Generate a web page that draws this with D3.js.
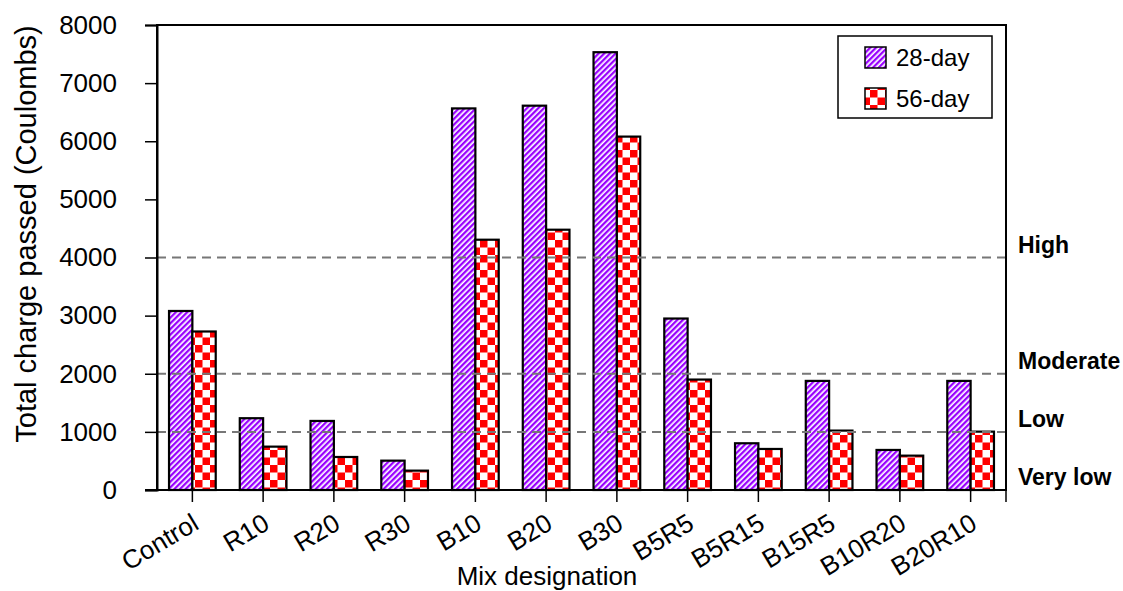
<!DOCTYPE html>
<html>
<head>
<meta charset="utf-8">
<script src="https://cdn.jsdelivr.net/npm/d3@7"></script>
<style>
  body { margin: 0; background: #fff; }
  text { font-family: "Liberation Sans", Arial, sans-serif; fill: #000; }
</style>
</head>
<body>
<svg id="chart" width="1123" height="591"></svg>
<script>
// data
var mixes = ["Control", "R10", "R20", "R30", "B10", "B20", "B30", "B5R5", "B5R15", "B15R5", "B10R20", "B20R10"];
var day28 = [3080, 1235, 1188, 505, 6565, 6612, 7532, 2950, 804, 1877, 689, 1877];
var day56 = [2727, 746, 568, 333, 4306, 4478, 6080, 1900, 706, 1022, 591, 1004];
var seriesNames = ["28-day", "56-day"];
var yTicks = [0, 1000, 2000, 3000, 4000, 5000, 6000, 7000, 8000];
var limitLines = [1000, 2000, 4000];
var rateNames = ["High", "Moderate", "Low", "Very low"];
var rateFrom = [4000, 2000, 1000, 0];

var svg = d3.select("#chart");
var plotL = 157, plotR = 1006, plotT = 25, plotB = 490;

var x = d3.scaleBand().domain(mixes).range([plotL, plotR]);
var y = d3.scaleLinear().domain([0, 8000]).range([plotB, plotT]);
var barW = x.bandwidth() * 0.33;

// patterns
var defs = svg.append("defs");
var stripes = defs.append("pattern")
    .attr("id", "stripes")
    .attr("patternUnits", "userSpaceOnUse")
    .attr("width", 4).attr("height", 4)
    .attr("patternTransform", "rotate(45)");
stripes.append("rect").attr("width", 4).attr("height", 4).attr("fill", "#fff");
stripes.append("rect").attr("width", 2.3).attr("height", 4).attr("fill", "#9900ff");

var checks = defs.append("pattern")
    .attr("id", "checks")
    .attr("patternUnits", "userSpaceOnUse")
    .attr("width", 15).attr("height", 15);
checks.append("rect").attr("width", 15).attr("height", 15).attr("fill", "#fff");
checks.append("rect").attr("width", 7.5).attr("height", 7.5).attr("fill", "#ff0000");
checks.append("rect").attr("x", 7.5).attr("y", 7.5).attr("width", 7.5).attr("height", 7.5).attr("fill", "#ff0000");

var fills = ["url(#stripes)", "url(#checks)"];

// bars
var series = [day28, day56];
series.forEach(function(vals, s) {
    svg.append("g").selectAll("rect")
        .data(vals)
        .enter()
        .append("rect")
        .attr("x", function(d, i) { return x(mixes[i]) + x.bandwidth() / 2 + (s - 1) * barW; })
        .attr("y", function(d) { return y(d); })
        .attr("width", barW)
        .attr("height", function(d) { return plotB - y(d); })
        .attr("fill", fills[s])
        .attr("stroke", "#000")
        .attr("stroke-width", 2.2);
});

// dashed limit lines
svg.append("g").selectAll("line")
    .data(limitLines)
    .enter()
    .append("line")
    .attr("x1", plotL).attr("x2", plotR)
    .attr("y1", function(d) { return y(d); })
    .attr("y2", function(d) { return y(d); })
    .attr("stroke", "#777")
    .attr("stroke-width", 2)
    .attr("stroke-dasharray", "9,6");

// frame
svg.append("rect")
    .attr("x", plotL).attr("y", plotT)
    .attr("width", plotR - plotL).attr("height", plotB - plotT)
    .attr("fill", "none").attr("stroke", "#000").attr("stroke-width", 2);

// y axis
var yAxis = d3.axisLeft(y).tickValues(yTicks).tickSize(12).tickPadding(28).tickFormat(d3.format("d"));
var gy = svg.append("g").attr("transform", "translate(" + plotL + ",0)").call(yAxis);
gy.select(".domain").attr("stroke-width", 2);
gy.selectAll(".tick line").attr("stroke-width", 1.5);
gy.selectAll("text").attr("font-size", 26).attr("font-family", "Liberation Sans, Arial, sans-serif");

// x axis: ticks at band centres plus one at the right edge
var gx = svg.append("g").attr("transform", "translate(0," + plotB + ")");
gx.append("line").attr("x1", plotL - 12).attr("x2", plotR).attr("stroke", "#000").attr("stroke-width", 2);
gx.selectAll("line.tk")
    .data(mixes.map(function(m) { return x(m) + x.bandwidth() / 2; }).concat([plotR]))
    .enter()
    .append("line")
    .attr("class", "tk")
    .attr("x1", function(d) { return d; })
    .attr("x2", function(d) { return d; })
    .attr("y1", 0).attr("y2", 12)
    .attr("stroke", "#000").attr("stroke-width", 1.5);
gx.selectAll("text")
    .data(mixes)
    .enter()
    .append("text")
    .attr("text-anchor", "end")
    .attr("font-size", 26)
    .attr("transform", function(d) {
        return "translate(" + (x(d) + x.bandwidth() / 2 + 8) + ",38) rotate(-31)";
    })
    .text(function(d) { return d; });

// axis titles
svg.append("text")
    .attr("text-anchor", "middle")
    .attr("font-size", 29)
    .attr("transform", "translate(36,234) rotate(-90)")
    .text("Total charge passed (Coulombs)");
svg.append("text")
    .attr("x", 547).attr("y", 585)
    .attr("text-anchor", "middle")
    .attr("font-size", 26)
    .text("Mix designation");

// chloride penetrability labels on the right
svg.append("g").selectAll("text")
    .data(rateNames)
    .enter()
    .append("text")
    .attr("x", plotR + 12)
    .attr("y", function(d, i) { return y(rateFrom[i]) - 5; })
    .attr("font-size", 23)
    .attr("font-weight", "bold")
    .text(function(d) { return d; });

// legend
var lg = svg.append("g");
lg.append("rect")
    .attr("x", 838).attr("y", 36).attr("width", 154).attr("height", 82)
    .attr("fill", "#fff").attr("stroke", "#000").attr("stroke-width", 1.5);
seriesNames.forEach(function(name, i) {
    lg.append("rect")
        .attr("x", 865).attr("y", 47 + i * 41).attr("width", 21).attr("height", 21)
        .attr("fill", fills[i]).attr("stroke", "#000").attr("stroke-width", 1.5);
    lg.append("text")
        .attr("x", 896).attr("y", 66 + i * 41)
        .attr("font-size", 24)
        .text(name);
});
</script>
</body>
</html>
